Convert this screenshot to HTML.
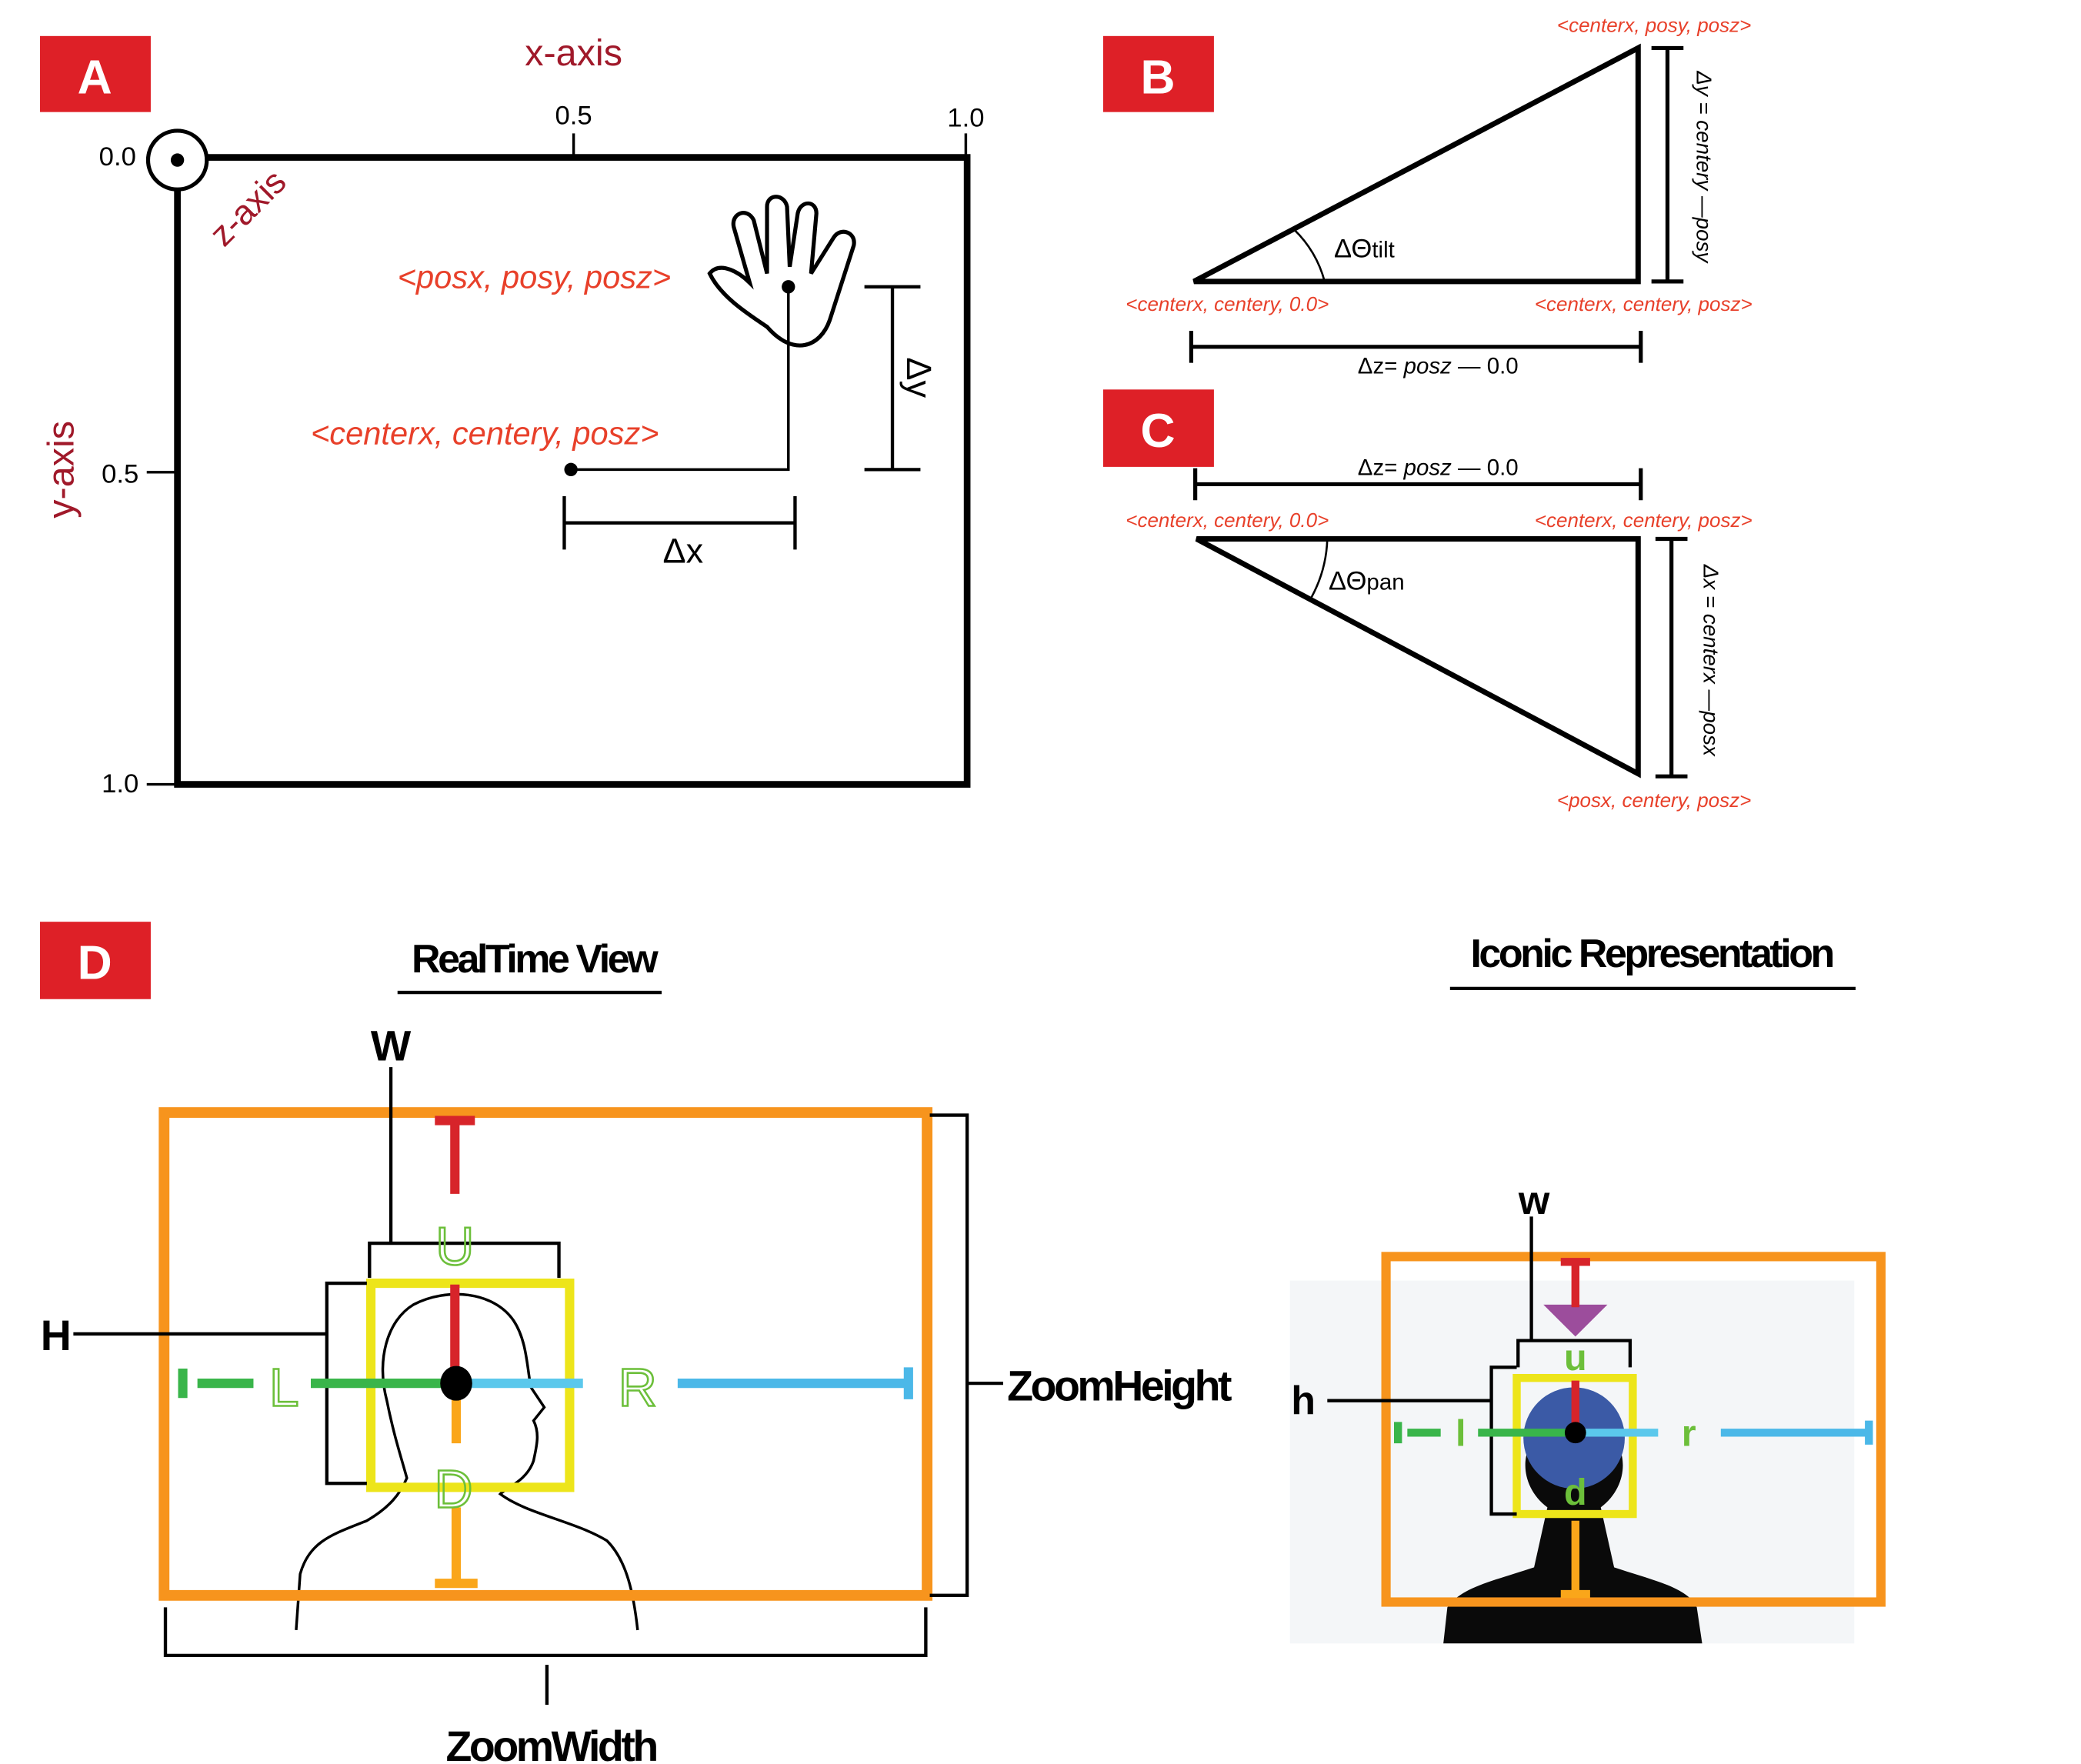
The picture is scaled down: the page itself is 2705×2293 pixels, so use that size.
<!DOCTYPE html>
<html><head><meta charset="utf-8"><style>
html,body{margin:0;padding:0;background:#fff}
svg{display:block}
text{font-family:"Liberation Sans",sans-serif}
.r{fill:#e8402a;font-style:italic}
.bold{font-weight:bold}
</style></head><body>
<svg width="2705" height="2293" viewBox="0 0 1560 1322.4" xmlns="http://www.w3.org/2000/svg">
<!-- Panel A -->
<g>
<rect x="30" y="27" width="83" height="57" fill="#de2027"/>
<text x="71" y="70" font-size="36" font-weight="bold" fill="#fff" text-anchor="middle">A</text>
<text x="430" y="49" font-size="28" fill="#a0192a" text-anchor="middle">x-axis</text>
<text x="430" y="93" font-size="20" text-anchor="middle">0.5</text>
<text x="724" y="95" font-size="20" text-anchor="middle">1.0</text>
<line x1="430" y1="100" x2="430" y2="118" stroke="#000" stroke-width="2"/>
<line x1="724" y1="100" x2="724" y2="118" stroke="#000" stroke-width="2"/>
<rect x="133" y="118" width="592" height="470" fill="none" stroke="#000" stroke-width="5"/>
<circle cx="133" cy="120" r="22" fill="#fff" stroke="#000" stroke-width="3"/>
<circle cx="133" cy="120" r="5" fill="#000"/>
<text x="102" y="124" font-size="20" text-anchor="end">0.0</text>
<text x="104" y="362" font-size="20" text-anchor="end">0.5</text>
<text x="104" y="594" font-size="20" text-anchor="end">1.0</text>
<line x1="110" y1="354" x2="133" y2="354" stroke="#000" stroke-width="2"/>
<line x1="110" y1="588" x2="133" y2="588" stroke="#000" stroke-width="2"/>
<text transform="translate(55,352) rotate(-90)" font-size="28" fill="#a0192a" text-anchor="middle">y-axis</text>
<text transform="translate(192,162) rotate(-45)" font-size="26" fill="#a0192a" text-anchor="middle">z-axis</text>
<path d="M575,245 C560,235 540,222 532,205 C540,195 555,205 562,212 L550,170 C548,160 560,155 565,165 L575,205 L575,155 C575,145 588,145 590,155 L592,200 L598,160 C600,150 612,150 612,160 L608,205 L625,178 C630,170 642,174 640,184 L622,240 C615,260 595,268 575,245 Z" fill="none" stroke="#000" stroke-width="3"/>
<text x="298" y="216" font-size="24" class="r">&lt;posx, posy, posz&gt;</text>
<text x="233" y="333" font-size="24" class="r">&lt;centerx, centery, posz&gt;</text>
<polyline points="428,352 591,352 591,215" fill="none" stroke="#000" stroke-width="2"/>
<circle cx="428" cy="352" r="5" fill="#000"/><circle cx="591" cy="215" r="5" fill="#000"/>
<g stroke="#000" stroke-width="2.5">
<line x1="423" y1="392" x2="596" y2="392"/><line x1="423" y1="372" x2="423" y2="412"/><line x1="596" y1="372" x2="596" y2="412"/>
<line x1="669" y1="215" x2="669" y2="352"/><line x1="648" y1="215" x2="690" y2="215"/><line x1="648" y1="352" x2="690" y2="352"/>
</g>
<text x="512" y="422" font-size="26" text-anchor="middle">Δx</text>
<text transform="translate(680,283) rotate(90)" font-size="26" text-anchor="middle">Δy</text>
</g>
<!-- Panel B -->
<g>
<rect x="827" y="27" width="83" height="57" fill="#de2027"/>
<text x="868" y="70" font-size="36" font-weight="bold" fill="#fff" text-anchor="middle">B</text>
<polygon points="895,211 1228,36 1228,211" fill="none" stroke="#000" stroke-width="4"/>
<path d="M970,172 A85,85 0 0 1 993,211" fill="none" stroke="#000" stroke-width="1.5"/>
<text x="1000" y="193" font-size="20">ΔΘ<tspan font-size="17">tilt</tspan></text>
<g stroke="#000" stroke-width="3">
<line x1="1250" y1="36" x2="1250" y2="211"/><line x1="1238" y1="36" x2="1262" y2="36"/><line x1="1238" y1="211" x2="1262" y2="211"/>
<line x1="893" y1="260" x2="1230" y2="260"/><line x1="893" y1="248" x2="893" y2="272"/><line x1="1230" y1="248" x2="1230" y2="272"/>
</g>
<text x="1240" y="24" font-size="15" class="r" text-anchor="middle">&lt;centerx, posy, posz&gt;</text>
<text x="920" y="233" font-size="15" class="r" text-anchor="middle">&lt;centerx, centery, 0.0&gt;</text>
<text x="1232" y="233" font-size="15" class="r" text-anchor="middle">&lt;centerx, centery, posz&gt;</text>
<text transform="translate(1272,125) rotate(90)" font-size="16" font-style="italic" text-anchor="middle">Δy = centery —posy</text>
<text x="1078" y="280" font-size="17" text-anchor="middle">Δz= <tspan font-style="italic">posz</tspan> — 0.0</text>
</g>
<!-- Panel C -->
<g>
<rect x="827" y="292" width="83" height="58" fill="#de2027"/>
<text x="868" y="335" font-size="36" font-weight="bold" fill="#fff" text-anchor="middle">C</text>
<text x="1078" y="356" font-size="17" text-anchor="middle">Δz= <tspan font-style="italic">posz</tspan> — 0.0</text>
<g stroke="#000" stroke-width="3">
<line x1="896" y1="363" x2="1230" y2="363"/><line x1="896" y1="351" x2="896" y2="375"/><line x1="1230" y1="351" x2="1230" y2="375"/>
<line x1="1253" y1="404" x2="1253" y2="582"/><line x1="1241" y1="404" x2="1265" y2="404"/><line x1="1241" y1="582" x2="1265" y2="582"/>
</g>
<text x="920" y="395" font-size="15" class="r" text-anchor="middle">&lt;centerx, centery, 0.0&gt;</text>
<text x="1232" y="395" font-size="15" class="r" text-anchor="middle">&lt;centerx, centery, posz&gt;</text>
<polygon points="897,404 1228,404 1228,580" fill="none" stroke="#000" stroke-width="4"/>
<path d="M995,404 A98,98 0 0 1 983,448" fill="none" stroke="#000" stroke-width="1.5"/>
<text x="996" y="442" font-size="20">ΔΘ<tspan font-size="17">pan</tspan></text>
<text transform="translate(1277,495) rotate(90)" font-size="16" font-style="italic" text-anchor="middle">Δx = centerx —posx</text>
<text x="1240" y="605" font-size="15" class="r" text-anchor="middle">&lt;posx, centery, posz&gt;</text>
</g>
<!-- Panel D left -->
<g>
<rect x="30" y="691" width="83" height="58" fill="#de2027"/>
<text x="71" y="734" font-size="36" font-weight="bold" fill="#fff" text-anchor="middle">D</text>
<text x="400" y="729" font-size="30" class="bold" text-anchor="middle" letter-spacing="-2">RealTime View</text>
<line x1="298" y1="744" x2="496" y2="744" stroke="#000" stroke-width="2.5"/>
<path d="M222,1222 L225,1180 C232,1155 250,1150 275,1140 C292,1130 300,1120 305,1108 C300,1090 295,1075 290,1050 C282,1020 290,990 310,978 C335,965 370,968 385,990 C395,1005 395,1025 398,1040 L408,1055 L400,1065 C405,1075 402,1085 400,1095 C395,1110 380,1115 375,1120 C395,1135 430,1140 455,1155 C470,1170 475,1195 478,1222" fill="none" stroke="#000" stroke-width="2"/>
<rect x="123" y="834" width="572" height="362" fill="none" stroke="#f7941d" stroke-width="8"/>
<rect x="278" y="962" width="149" height="153" fill="none" stroke="#ede51a" stroke-width="7"/>
<text x="293" y="795" font-size="32" class="bold" text-anchor="middle">W</text>
<g stroke="#000" stroke-width="2.5" fill="none">
<line x1="293" y1="800" x2="293" y2="932"/>
<polyline points="277,958 277,932 419,932 419,958"/>
<line x1="55" y1="1000" x2="245" y2="1000"/>
<polyline points="275,962 245,962 245,1112 275,1112"/>
<polyline points="697,836 725,836 725,1196 697,1196"/>
<line x1="725" y1="1037" x2="752" y2="1037"/>
<polyline points="124,1205 124,1241 694,1241 694,1205"/>
<line x1="410" y1="1248" x2="410" y2="1278"/>
</g>
<text x="42" y="1012" font-size="32" class="bold" text-anchor="middle">H</text>
<text x="755" y="1050" font-size="32" class="bold" letter-spacing="-2">ZoomHeight</text>
<text x="413" y="1320" font-size="32" class="bold" text-anchor="middle" letter-spacing="-2">ZoomWidth</text>
<g stroke-width="7">
<line x1="341" y1="838" x2="341" y2="895" stroke="#d7242a"/><line x1="326" y1="840" x2="356" y2="840" stroke="#d7242a"/>
<line x1="341" y1="963" x2="341" y2="1025" stroke="#d7242a"/>
<line x1="137" y1="1026" x2="137" y2="1048" stroke="#39b54a"/>
<line x1="148" y1="1037" x2="190" y2="1037" stroke="#39b54a"/><line x1="233" y1="1037" x2="340" y2="1037" stroke="#39b54a"/>
<line x1="342" y1="1037" x2="437" y2="1037" stroke="#5bc8ec"/><line x1="508" y1="1037" x2="680" y2="1037" stroke="#4bb8e8"/>
<line x1="681" y1="1025" x2="681" y2="1049" stroke="#4bb8e8"/>
<line x1="342" y1="1045" x2="342" y2="1082" stroke="#faa61a"/><line x1="342" y1="1130" x2="342" y2="1186" stroke="#faa61a"/>
<line x1="326" y1="1187" x2="358" y2="1187" stroke="#faa61a"/>
</g>
<ellipse cx="342" cy="1037" rx="12" ry="13" fill="#000"/>
<g font-size="40" fill="none" stroke="#6cbf3a" stroke-width="1.5" text-anchor="middle">
<text x="341" y="948">U</text><text x="213" y="1054">L</text><text x="478" y="1054">R</text><text x="340" y="1130">D</text>
</g>
</g>
<!-- Panel D right -->
<g>
<text x="1238" y="725" font-size="30" class="bold" text-anchor="middle" letter-spacing="-2">Iconic Representation</text>
<line x1="1087" y1="741" x2="1391" y2="741" stroke="#000" stroke-width="2.5"/>
<rect x="967" y="960" width="423" height="272" fill="#f4f6f8"/>
<path d="M1082,1232 L1085,1205 C1095,1190 1120,1185 1150,1175 L1160,1130 C1140,1115 1140,1090 1150,1080 L1210,1080 C1220,1090 1220,1115 1200,1130 L1210,1175 C1240,1185 1265,1190 1272,1205 L1276,1232 Z" fill="#0a0a0a"/>
<circle cx="1180" cy="1078" r="38" fill="#3b5aa6"/>
<rect x="1039" y="942" width="371" height="259" fill="none" stroke="#f7941d" stroke-width="7"/>
<rect x="1137" y="1033" width="87" height="102" fill="none" stroke="#ede51a" stroke-width="6"/>
<polygon points="1157,978 1205,978 1181,1002" fill="#9c4d9c"/>
<text x="1150" y="910" font-size="30" class="bold" text-anchor="middle">w</text>
<text x="977" y="1060" font-size="30" class="bold" text-anchor="middle">h</text>
<g stroke="#000" stroke-width="2.5" fill="none">
<line x1="1148" y1="912" x2="1148" y2="1005"/>
<polyline points="1138,1025 1138,1005 1222,1005 1222,1025"/>
<line x1="995" y1="1050" x2="1118" y2="1050"/>
<polyline points="1137,1025 1118,1025 1118,1135 1137,1135"/>
</g>
<g stroke-width="6">
<line x1="1181" y1="945" x2="1181" y2="980" stroke="#d7242a"/><line x1="1170" y1="946" x2="1192" y2="946" stroke="#d7242a"/>
<line x1="1181" y1="1035" x2="1181" y2="1068" stroke="#d7242a"/>
<line x1="1048" y1="1066" x2="1048" y2="1082" stroke="#39b54a"/>
<line x1="1055" y1="1074" x2="1080" y2="1074" stroke="#39b54a"/><line x1="1108" y1="1074" x2="1180" y2="1074" stroke="#39b54a"/>
<line x1="1182" y1="1074" x2="1243" y2="1074" stroke="#5bc8ec"/><line x1="1290" y1="1074" x2="1400" y2="1074" stroke="#4bb8e8"/>
<line x1="1401" y1="1065" x2="1401" y2="1083" stroke="#4bb8e8"/>
<line x1="1181" y1="1140" x2="1181" y2="1195" stroke="#faa61a"/><line x1="1170" y1="1195" x2="1192" y2="1195" stroke="#faa61a"/>
</g>
<circle cx="1181" cy="1074" r="8" fill="#000"/>
<g font-size="28" font-weight="bold" fill="#6cbf3a" text-anchor="middle">
<text x="1181" y="1027">u</text><text x="1095" y="1084">l</text><text x="1266" y="1084">r</text><text x="1181" y="1128">d</text>
</g>
</g>
</svg>
</body></html>
